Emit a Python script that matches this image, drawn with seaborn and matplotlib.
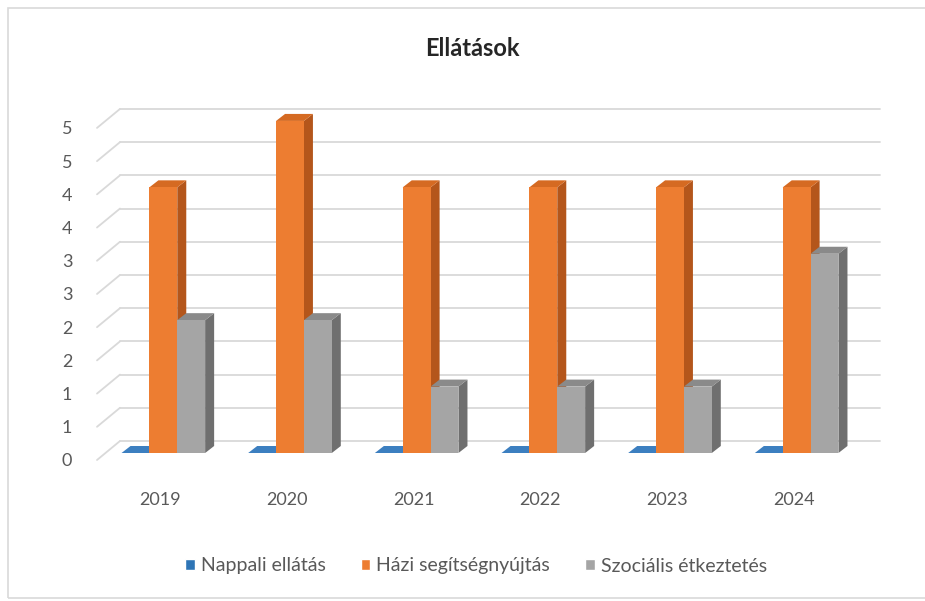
import numpy as np
import pandas as pd
import matplotlib
matplotlib.use("Agg")
import matplotlib.pyplot as plt
import seaborn as sns
from matplotlib.transforms import Affine2D
from matplotlib.patches import Polygon, Rectangle

# Data
years = ["2019", "2020", "2021", "2022", "2023", "2024"]
nappali = [0, 0, 0, 0, 0, 0]
hazi = [4, 5, 4, 4, 4, 4]
szocialis = [2, 2, 1, 1, 1, 3]
series_names = ["Nappali ellátás", "Házi segítségnyújtás", "Szociális étkeztetés"]
y_ticks = [0, 0.5, 1, 1.5, 2, 2.5, 3, 3.5, 4, 4.5, 5]
y_tick_labels = ["0", "1", "1", "2", "2", "3", "3", "4", "4", "5", "5"]

df = pd.DataFrame({
    "year": years * 3,
    "series": [series_names[0]] * 6 + [series_names[1]] * 6 + [series_names[2]] * 6,
    "value": nappali + hazi + szocialis,
})

front = ["#2E75B6", "#ED7D31", "#A5A5A5"]
side = ["#1F4E79", "#B4561B", "#6F6F6F"]
top = ["#3C7FC0", "#D56A22", "#8A8A8A"]

sns.set_theme(style="white")
plt.rcParams["font.family"] = ["Lato", "DejaVu Sans"]

fig = plt.figure(figsize=(9.25, 6.01), dpi=100)
ax = fig.add_axes([100 / 925, (601 - 453) / 601, 760 / 925, 352 / 601])

sns.barplot(data=df, x="year", y="value", hue="series", palette=front,
            width=0.66, saturation=1, ax=ax, legend=False, zorder=3)

ax.set_xlim(-0.5, 5.5)
ax.set_ylim(0, 5.3)
for s in ax.spines.values():
    s.set_visible(False)
ax.set_xlabel("")
ax.set_ylabel("")
ax.set_yticks(y_ticks)
ax.set_yticklabels(y_tick_labels)
ax.tick_params(axis="y", length=0, pad=20, labelsize=13, labelcolor="#595959")
ax.tick_params(axis="x", length=0, pad=28, labelsize=13, labelcolor="#595959")
for lab in ax.get_yticklabels():
    lab.set_transform(lab.get_transform() + Affine2D().translate(0, -7))
for lab in ax.get_xticklabels():
    lab.set_transform(lab.get_transform() + Affine2D().translate(-3, 0))

# back wall gridlines and side wall diagonals
grid_shift = ax.transData + Affine2D().translate(20, 12)
for v in y_ticks:
    ax.plot([-0.5, 5.5], [v, v], color="#D9D9D9", lw=1.3, transform=grid_shift,
            clip_on=False, zorder=0)
    x0, y0 = ax.transData.transform((-0.5, v))
    ax.plot([x0 - 3, x0 + 20], [y0 - 7, y0 + 12], color="#D9D9D9", lw=1.3,
            transform=None, clip_on=False, zorder=0)

# pseudo 3D faces built from the seaborn bars
dx, dy = 9, 7
bars = [p for p in ax.patches if p.get_width() > 0]
bars.sort(key=lambda p: p.get_x())
for rank, p in enumerate(bars):
    hexcol = matplotlib.colors.to_hex(p.get_facecolor()).upper()
    col = front.index(hexcol) if hexcol in front else 0
    z = 3 + rank * 0.01
    p.set_zorder(z)
    p.set_edgecolor("none")
    X0, Y0 = ax.transData.transform((p.get_x(), 0))
    X1, Y1 = ax.transData.transform((p.get_x() + p.get_width(), p.get_height()))
    sidep = Polygon([(X1, Y0), (X1 + dx, Y0 + dy), (X1 + dx, Y1 + dy), (X1, Y1)],
                    closed=True, facecolor=side[col], edgecolor="none",
                    transform=None, zorder=z - 0.005, clip_on=False)
    topp = Polygon([(X0, Y1), (X0 + dx, Y1 + dy), (X1 + dx, Y1 + dy), (X1, Y1)],
                   closed=True, facecolor=top[col], edgecolor="none",
                   transform=None, zorder=z - 0.004, clip_on=False)
    ax.add_patch(sidep)
    ax.add_patch(topp)

fig.text(472 / 925, 1 - 48 / 601, "Ellátások", ha="center", va="center",
         fontsize=17, fontweight="bold", color="#262626")

handles = [Rectangle((0, 0), 1, 1, facecolor=c) for c in front]
fig.legend(handles, series_names, loc="center", bbox_to_anchor=(476 / 925, 1 - 566 / 601),
           ncol=3, frameon=False, fontsize=14, handlelength=0.5, handleheight=0.5,
           handletextpad=0.3, columnspacing=1.8, labelcolor="#595959")

fig.add_artist(Rectangle((8 / 925, 3 / 601), 1.0, 1 - 11 / 601, transform=fig.transFigure,
                         facecolor="none", edgecolor="#D9D9D9", lw=1.2))

fig.savefig("out.png", dpi=100)
